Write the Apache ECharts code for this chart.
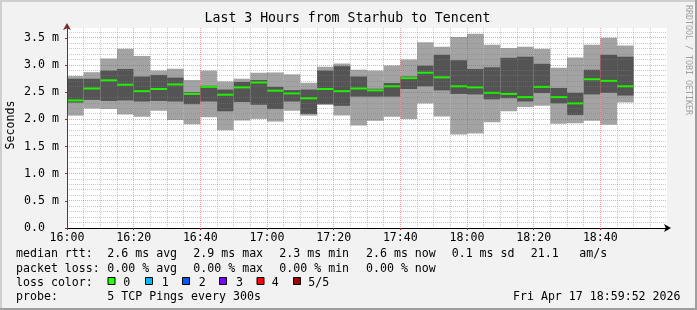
<!DOCTYPE html>
<html>
<head>
<meta charset="utf-8">
<script src="https://cdn.jsdelivr.net/npm/echarts@6/dist/echarts.min.js"></script>
<style>
html,body{margin:0;padding:0;background:#f2f2f2;}
#chart{width:697px;height:310px;}
</style>
</head>
<body>
<div id="chart"></div>
<script>
// ---- data (milliseconds) ----
const startTimes = ['16:00','16:05','16:10','16:15','16:20','16:25','16:30','16:35','16:40','16:45',
  '16:50','16:55','17:00','17:05','17:10','17:15','17:20','17:25','17:30','17:35',
  '17:40','17:45','17:50','17:55','18:00','18:05','18:10','18:15','18:20','18:25',
  '18:30','18:35','18:40','18:45'];
const minVals = [2.07,2.20,2.19,2.09,2.05,2.16,1.99,1.91,2.04,1.80,1.98,2.01,1.96,2.16,2.07,2.27,2.07,1.89,1.975,2.05,2.01,2.295,2.055,1.72,1.74,1.95,2.15,2.23,2.25,1.92,1.93,1.975,1.90,2.31];
const loVals  = [2.31,2.36,2.34,2.35,2.33,2.34,2.33,2.28,2.33,2.15,2.32,2.27,2.19,2.33,2.10,2.28,2.25,2.42,2.42,2.42,2.56,2.61,2.535,2.47,2.46,2.37,2.39,2.33,2.485,2.295,2.08,2.46,2.49,2.44];
const medVals = [2.35,2.57,2.72,2.64,2.52,2.56,2.645,2.47,2.60,2.455,2.59,2.68,2.53,2.48,2.39,2.56,2.52,2.57,2.535,2.61,2.76,2.86,2.775,2.61,2.59,2.49,2.47,2.41,2.60,2.41,2.295,2.74,2.71,2.61];
const hiVals  = [2.75,2.75,2.90,2.93,2.79,2.82,2.77,2.50,2.62,2.55,2.69,2.725,2.60,2.54,2.55,2.90,2.98,2.79,2.565,2.67,2.79,2.99,3.19,3.09,2.93,2.96,3.135,3.155,3.025,2.58,2.49,2.915,3.19,3.155];
const maxVals = [2.80,2.87,3.12,3.30,3.17,2.90,2.935,2.725,2.90,2.70,2.75,2.86,2.865,2.83,2.675,2.97,3.03,2.915,2.90,2.995,3.105,3.42,3.34,3.52,3.58,3.375,3.315,3.34,3.30,2.95,3.14,3.375,3.505,3.36];
const stepMinutes = 5;
const xTickLabels = ['16:00','16:20','16:40','17:00','17:20','17:40','18:00','18:20','18:40'];
const yTickLabels = ['0.0','0.5 m','1.0 m','1.5 m','2.0 m','2.5 m','3.0 m','3.5 m'];
const titleText = 'Last 3 Hours from Starhub to Tencent';
const lossColors = ['#26ff00','#00b8ff','#0059ff','#7e00ff','#ff0000','#a00000'];
const lossLabels = ['0','1','2','3','4','5/5'];

const FONT = '"DejaVu Sans Mono", monospace';
const toMin = t => { const [h,m] = t.split(':').map(Number); return (h-16)*60 + m; };
const data = startTimes.map((t,i) => [toMin(t), minVals[i], loVals[i], medVals[i], hiVals[i], maxVals[i]]);

const X_MAX = 180, X_MAJOR = 20, X_MINOR = 5;
const Y_MAX = 3.684, Y_MAJOR = 0.5, Y_MINOR = 0.1;

const chart = echarts.init(document.getElementById('chart'), null, {renderer:'canvas'});

function renderItem(params, api){
  const s = api.value(0);
  const x0 = api.coord([s, 0])[0];
  const x1 = api.coord([s + stepMinutes, 0])[0];
  const yMin = api.coord([s, api.value(1)])[1];
  const yLo  = api.coord([s, api.value(2)])[1];
  const yMed = api.coord([s, api.value(3)])[1];
  const yHi  = api.coord([s, api.value(4)])[1];
  const yMax = api.coord([s, api.value(5)])[1];
  return {type:'group', children:[
    {type:'rect', shape:{x:x0, y:yMax, width:x1-x0, height:yMin-yMax}, style:{fill:'#a3a3a3'}},
    {type:'rect', shape:{x:x0, y:yHi, width:x1-x0, height:yLo-yHi}, style:{fill:'#545454'}},
    {type:'line', shape:{x1:x0, y1:yMed, x2:x1, y2:yMed}, style:{stroke:'#22f000', lineWidth:2}}
  ]};
}

const gridGrey = 'rgba(128,128,128,0.42)';
const gridRed = 'rgba(255,32,32,0.42)';

// grid lines drawn on top of the smoke (like rrdtool), snapped to whole pixels
function renderGrid(params, api){
  const p0 = api.coord([0, 0]);
  const p1 = api.coord([X_MAX, Y_MAX]);
  const left = p0[0], bottom = p0[1], right = p1[0], top = p1[1];
  const children = [];
  const nx = Math.round(X_MAX / X_MINOR);
  for (let k = 1; k < nx; k++){
    const m = k * X_MINOR;
    const x = Math.floor(api.coord([m, 0])[0]) + 0.5;
    const major = (m % X_MAJOR) === 0;
    children.push({type:'line', shape:{x1:x, y1:top, x2:x, y2:bottom},
      style:{stroke: major ? gridRed : gridGrey, lineWidth:1, lineDash:[1,1]}});
  }
  const ny = Math.floor(Y_MAX / Y_MINOR + 1e-6);
  for (let k = 1; k <= ny; k++){
    const v = k * Y_MINOR;
    const y = Math.floor(api.coord([0, v])[1]) + 0.5;
    const major = Math.abs(v / Y_MAJOR - Math.round(v / Y_MAJOR)) < 1e-6;
    children.push({type:'line', shape:{x1:left, y1:y, x2:right, y2:y},
      style:{stroke: major ? gridRed : gridGrey, lineWidth:1, lineDash:[1,1]}});
  }
  return {type:'group', children};
}

function textEl(text, x, y, opts){
  opts = opts || {};
  return {type:'text', x:x, y:y, rotation: opts.rotation || 0, z:10,
    style:{text:text, font:(opts.size||11.6)+'px '+FONT, fill:opts.fill||'#000',
      align:opts.align||'left', verticalAlign:'middle'}};
}

const graphics = [
  {type:'rect', shape:{x:0,y:0,width:697,height:2}, style:{fill:'#cfcfcf'}, z:10},
  {type:'rect', shape:{x:0,y:0,width:2,height:310}, style:{fill:'#cfcfcf'}, z:10},
  {type:'rect', shape:{x:0,y:308,width:697,height:2}, style:{fill:'#9e9e9e'}, z:10},
  {type:'rect', shape:{x:695,y:0,width:2,height:310}, style:{fill:'#9e9e9e'}, z:10},
  textEl(titleText, 347.5, 19, {align:'center', size:13.2}),
  textEl('Seconds', 11, 125, {align:'center', rotation:Math.PI/2}),
  textEl('RRDTOOL / TOBI OETIKER', 688.5, 60, {align:'center', rotation:-Math.PI/2, size:8.3, fill:'#a0a0a0'}),
  textEl('median rtt:', 16, 254), textEl('2.6 ms avg', 107.3, 254), textEl('2.9 ms max', 193.3, 254),
  textEl('2.3 ms min', 279.3, 254), textEl('2.6 ms now', 366, 254), textEl('0.1 ms sd', 451.7, 254),
  textEl('21.1', 530.7, 254), textEl('am/s', 579.3, 254),
  textEl('packet loss:', 16, 268.5), textEl('0.00 % avg', 107.3, 268.5), textEl('0.00 % max', 193.3, 268.5),
  textEl('0.00 % min', 279.3, 268.5), textEl('0.00 % now', 366, 268.5),
  textEl('loss color:', 16, 282.5),
  textEl('probe:', 16, 296.5), textEl('5 TCP Pings every 300s', 107.3, 296.5),
  textEl('Fri Apr 17 18:59:52 2026', 680.5, 296.5, {align:'right'})
];
const boxX = [108, 145.5, 182.5, 219.5, 257, 293.5];
const lblX = [123.3, 161.7, 198.7, 236, 271.7, 308.3];
lossColors.forEach((c,i) => {
  graphics.push({type:'rect', z:10, shape:{x:boxX[i], y:277.5, width:7, height:7}, style:{fill:c, stroke:'#000', lineWidth:1}});
  graphics.push(textEl(lossLabels[i], lblX[i], 282.5));
});

const option = {
  backgroundColor:'#f2f2f2',
  animation:false,
  grid:{left:67, right:30, top:28, bottom:82, show:true, backgroundColor:'#ffffff', borderWidth:0},
  xAxis:{type:'value', min:0, max:X_MAX, interval:X_MAJOR, z:6,
    axisLine:{show:true, lineStyle:{color:'#000', width:1}, symbol:['none','arrow'], symbolSize:[6,7], symbolOffset:[0,4]},
    axisTick:{show:true, length:2, lineStyle:{color:'#c02020'}},
    axisLabel:{margin:4, color:'#000', fontFamily:FONT, fontSize:11.6,
      formatter:v => { const i = Math.round(v/X_MAJOR); return (v < X_MAX && xTickLabels[i]) ? xTickLabels[i] : ''; }},
    splitLine:{show:false}
  },
  yAxis:{type:'value', min:0, max:Y_MAX, interval:Y_MAJOR, z:6,
    axisLine:{show:true, lineStyle:{color:'#7a2a2a', width:1}, symbol:['none','arrow'], symbolSize:[6,7], symbolOffset:[0,5]},
    axisTick:{show:true, length:2, lineStyle:{color:'#c02020'}},
    axisLabel:{margin:8, color:'#000', fontFamily:FONT, fontSize:11.6, showMaxLabel:false,
      formatter:v => { const i = Math.round(v/Y_MAJOR); if (Math.abs(v - i*Y_MAJOR) > 1e-6) return ''; const s = yTickLabels[i] || ''; return s.length < 5 ? s + '  ' : s; }},
    splitLine:{show:false}
  },
  series:[
    {type:'custom', renderItem:renderItem, data:data, encode:{x:0, y:[1,5]}, z:2, clip:true},
    {type:'custom', renderItem:renderGrid, data:[[0,0]], encode:{x:0, y:1}, z:4, silent:true}
  ],
  graphic:graphics
};
chart.setOption(option);
</script>
</body>
</html>
